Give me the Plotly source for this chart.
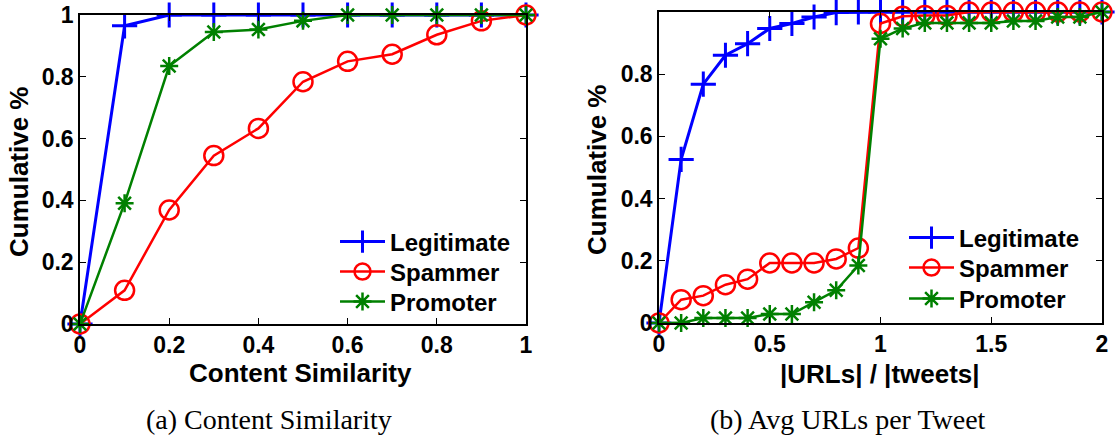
import plotly.graph_objects as go

# ---- (a) Content Similarity: CDF per user class ----
sim_x = [0, 0.1, 0.2, 0.3, 0.4, 0.5, 0.6, 0.7, 0.8, 0.9, 1.0]
sim_legitimate = [0, 0.965, 1, 1, 1, 1, 1, 1, 1, 1, 1]
sim_spammer = [0, 0.109, 0.369, 0.545, 0.633, 0.784, 0.850, 0.873, 0.936, 0.981, 1]
sim_promoter = [0, 0.391, 0.835, 0.945, 0.953, 0.981, 1, 1, 1, 1, 1]

# ---- (b) Avg URLs per tweet: CDF per user class ----
url_x = [0, 0.1, 0.2, 0.3, 0.4, 0.5, 0.6, 0.7, 0.8, 0.9, 1.0,
         1.1, 1.2, 1.3, 1.4, 1.5, 1.6, 1.7, 1.8, 1.9, 2.0]
url_legitimate = [0, 0.526, 0.768, 0.861, 0.898, 0.947, 0.963, 0.984, 0.998, 1, 1,
                  1, 1, 1, 1, 1, 1, 1, 1, 1, 1]
url_spammer = [0, 0.075, 0.088, 0.123, 0.141, 0.193, 0.193, 0.193, 0.206, 0.241, 0.963,
               0.986, 0.989, 0.989, 1, 1, 1, 1, 1, 1, 1]
url_promoter = [0, 0.0, 0.016, 0.016, 0.016, 0.029, 0.029, 0.067, 0.105, 0.185, 0.914,
                0.947, 0.965, 0.965, 0.965, 0.965, 0.971, 0.971, 0.984, 0.984, 1]

sim_ticks = [0, 0.2, 0.4, 0.6, 0.8, 1]
url_ticks = [0, 0.5, 1, 1.5, 2]
y_ticks = [0, 0.2, 0.4, 0.6, 0.8, 1]

series_names = ["Legitimate", "Spammer", "Promoter"]
BLUE, RED, GREEN = "#0000FF", "#FF0000", "#008000"

W, H = 1117, 436
SANS = "Liberation Sans"
SERIF = "Liberation Serif"


def px_x(p):
    return p / W


def px_y(p):
    return (H - p) / H


styles = [
    dict(color=BLUE, symbol="cross-thin-open", size=18, lw=3),
    dict(color=RED, symbol="circle-open", size=19, lw=2.5),
    dict(color=GREEN, symbol="asterisk-open", size=15, lw=2.5),
]

fig = go.Figure()

# one legend per entry so every row sits exactly where it should
legend_font = dict(family=SANS, size=24, color="black", weight="bold")
legend_layouts = {}


def add_series(x, ys, xa, ya, legend_ids, legend_left, row_centers):
    for name, y, st, lid, yc in zip(series_names, ys, styles, legend_ids, row_centers):
        fig.add_trace(go.Scatter(
            x=x, y=y, name=name, mode="lines+markers",
            xaxis=xa, yaxis=ya, legend=lid, cliponaxis=False,
            line=dict(color=st["color"], width=st["lw"]),
            marker=dict(symbol=st["symbol"], size=st["size"],
                        color=st["color"],
                        line=dict(color=st["color"], width=st["lw"])),
        ))
        legend_layouts[lid] = dict(
            x=px_x(legend_left), y=px_y(yc), xanchor="left", yanchor="middle",
            bgcolor="rgba(0,0,0,0)", borderwidth=0, itemwidth=45,
            font=legend_font,
        )


add_series(sim_x, [sim_legitimate, sim_spammer, sim_promoter], "x", "y",
           ["legend", "legend2", "legend3"], 335, [242, 272, 302])
add_series(url_x, [url_legitimate, url_spammer, url_promoter], "x2", "y2",
           ["legend4", "legend5", "legend6"], 904, [238, 268, 299])

tick_font = dict(family=SANS, size=23, color="black", weight="bold")
axis_common = dict(
    showline=True, linecolor="black", linewidth=1.5, mirror="ticks",
    ticks="inside", ticklen=6, tickwidth=1, tickcolor="black",
    showgrid=False, zeroline=False, tickfont=tick_font, automargin=False,
)

fig.update_layout(
    width=W, height=H,
    margin=dict(l=0, r=0, t=0, b=0),
    paper_bgcolor="white", plot_bgcolor="white",
    xaxis=dict(domain=[px_x(80), px_x(526)], range=[0, 1], tickvals=sim_ticks,
               anchor="y", **axis_common),
    yaxis=dict(domain=[px_y(324), px_y(15)], range=[0, 1], tickvals=y_ticks,
               anchor="x", **axis_common),
    xaxis2=dict(domain=[px_x(659), px_x(1102)], range=[0, 2], tickvals=url_ticks,
                anchor="y2", **axis_common),
    yaxis2=dict(domain=[px_y(323), px_y(12)], range=[0, 1], tickvals=y_ticks,
                anchor="x2", **axis_common),
    showlegend=True,
    **legend_layouts,
)

title_font = dict(family=SANS, size=26, color="black", weight="bold")
caption_font = dict(family=SERIF, size=28, color="black")

annotations = [
    # axis titles, hung just below the tick labels
    dict(text="Content Similarity", x=px_x(301), y=px_y(356), yanchor="top", font=title_font),
    dict(text="|URLs| / |tweets|", x=px_x(880), y=px_y(357), yanchor="top", font=title_font),
    dict(text="Cumulative %", x=px_x(19), y=px_y(172), textangle=-90, font=title_font),
    dict(text="Cumulative %", x=px_x(597), y=px_y(170), textangle=-90, font=title_font),
    # sub-figure captions
    dict(text="(a) Content Similarity", x=px_x(269), y=px_y(419), font=caption_font),
    dict(text="(b) Avg URLs per Tweet", x=px_x(848), y=px_y(419), font=caption_font),
]
for a in annotations:
    a.setdefault("yanchor", "middle")
    fig.add_annotation(xref="paper", yref="paper", showarrow=False,
                       xanchor="center", **a)

fig.write_html("out.html")
